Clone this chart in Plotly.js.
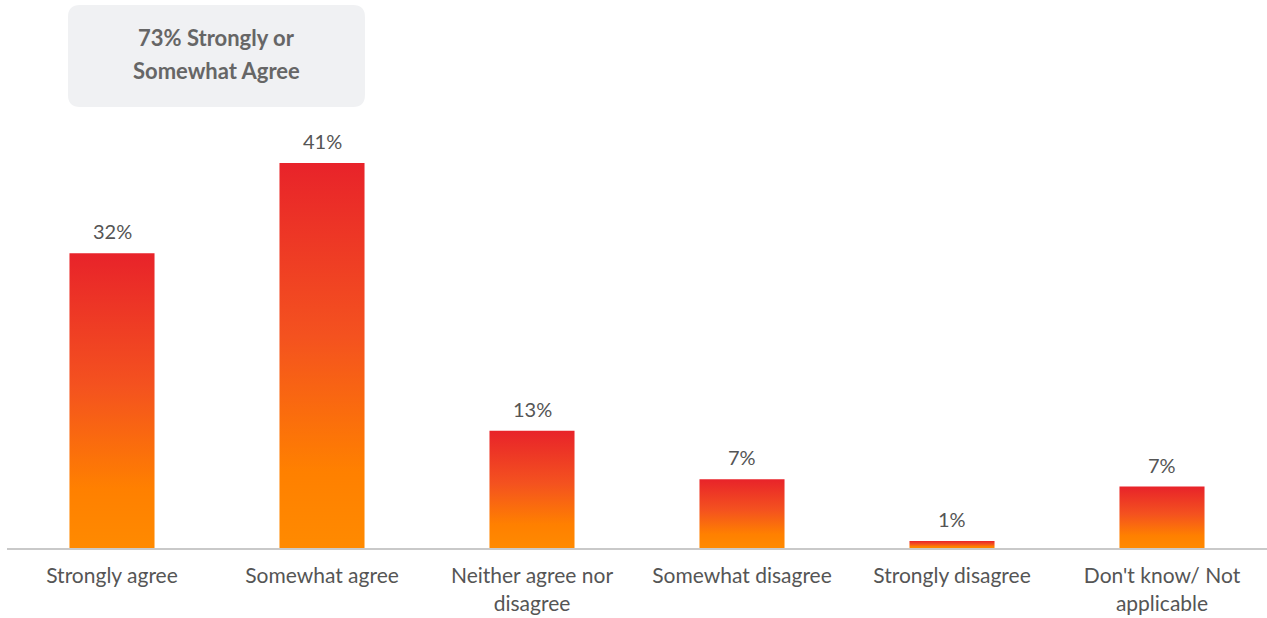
<!DOCTYPE html>
<html>
<head>
<meta charset="utf-8">
<script src="https://cdn.plot.ly/plotly-3.0.1.min.js"></script>
<style>
html,body{margin:0;padding:0;background:#fff;}
#chart{width:1267px;height:618px;}
</style>
</head>
<body>
<div id="chart"></div>
<script>
const categories = [
  "Strongly agree",
  "Somewhat agree",
  "Neither agree nor<br>disagree",
  "Somewhat disagree",
  "Strongly disagree",
  "Don't know/ Not<br>applicable"
];
const values = [31.7, 41.4, 12.6, 7.4, 0.75, 6.6];
const valueLabels = ["32%", "41%", "13%", "7%", "1%", "7%"];
const calloutLines = ["73% Strongly or", "Somewhat Agree"];

const textColor = "#555555";
const fontFamily = "Lato, 'Open Sans', sans-serif";

const trace = {
  type: "bar",
  x: categories,
  y: values,
  marker: { color: "#f55a1e", line: { width: 0 } },
  hoverinfo: "none"
};

const valueAnnotations = categories.map((c, i) => ({
  x: c, y: values[i], xref: "x", yref: "y",
  text: valueLabels[i], showarrow: false,
  yanchor: "middle", yshift: 22,
  font: { family: fontFamily, size: 20, color: textColor }
}));

const calloutAnnotations = calloutLines.map((t, i) => ({
  x: 0.1659, y: i === 0 ? 1.1916 : 1.1168, xref: "paper", yref: "paper",
  text: "<b>" + t + "</b>", showarrow: false,
  xanchor: "center", yanchor: "middle",
  font: { family: fontFamily, size: 22, color: "#666666" }
}));

// rounded box for the callout (paper coordinates)
const bx0 = 0.0484, bx1 = 0.2841, by0 = 1.0304, by1 = 1.2687, rx = 0.0095, ry = 0.028;
const boxPath = `M ${bx0+rx} ${by0} L ${bx1-rx} ${by0} Q ${bx1} ${by0} ${bx1} ${by0+ry} L ${bx1} ${by1-ry} Q ${bx1} ${by1} ${bx1-rx} ${by1} L ${bx0+rx} ${by1} Q ${bx0} ${by1} ${bx0} ${by1-ry} L ${bx0} ${by0+ry} Q ${bx0} ${by0} ${bx0+rx} ${by0} Z`;

const layout = {
  width: 1267, height: 618,
  margin: { l: 7, r: 0, t: 120, b: 70 },
  paper_bgcolor: "#ffffff", plot_bgcolor: "#ffffff",
  bargap: 0.595,
  showlegend: false,
  font: { family: fontFamily, color: textColor },
  xaxis: {
    showgrid: false, zeroline: false,
    showline: true, linecolor: "#c9c9c9", linewidth: 2,
    ticks: "outside", ticklen: 8, tickcolor: "rgba(0,0,0,0)",
    tickfont: { family: fontFamily, size: 21, color: textColor },
    fixedrange: true
  },
  yaxis: {
    range: [0, 46.02], visible: false, showgrid: false, zeroline: false,
    fixedrange: true
  },
  shapes: [{
    type: "path", xref: "paper", yref: "paper", path: boxPath,
    fillcolor: "#f0f1f3", line: { width: 0 }, layer: "below"
  }],
  annotations: calloutAnnotations.concat(valueAnnotations)
};

Plotly.newPlot("chart", [trace], layout, { displayModeBar: false, staticPlot: true }).then(gd => {
  const svgNS = "http://www.w3.org/2000/svg";
  const defs = gd.querySelector(".main-svg defs");
  const grad = document.createElementNS(svgNS, "linearGradient");
  grad.setAttribute("id", "barGrad");
  grad.setAttribute("x1", "0"); grad.setAttribute("y1", "0");
  grad.setAttribute("x2", "0"); grad.setAttribute("y2", "1");
  [["0", "#e8232a"], ["0.45", "#f4521f"], ["0.8", "#ff8000"], ["1", "#ff8a00"]].forEach(([o, c]) => {
    const s = document.createElementNS(svgNS, "stop");
    s.setAttribute("offset", o); s.setAttribute("stop-color", c);
    grad.appendChild(s);
  });
  defs.appendChild(grad);
  gd.querySelectorAll(".bars .point path").forEach(p => { p.style.fill = "url(#barGrad)"; });
});
</script>
</body>
</html>
